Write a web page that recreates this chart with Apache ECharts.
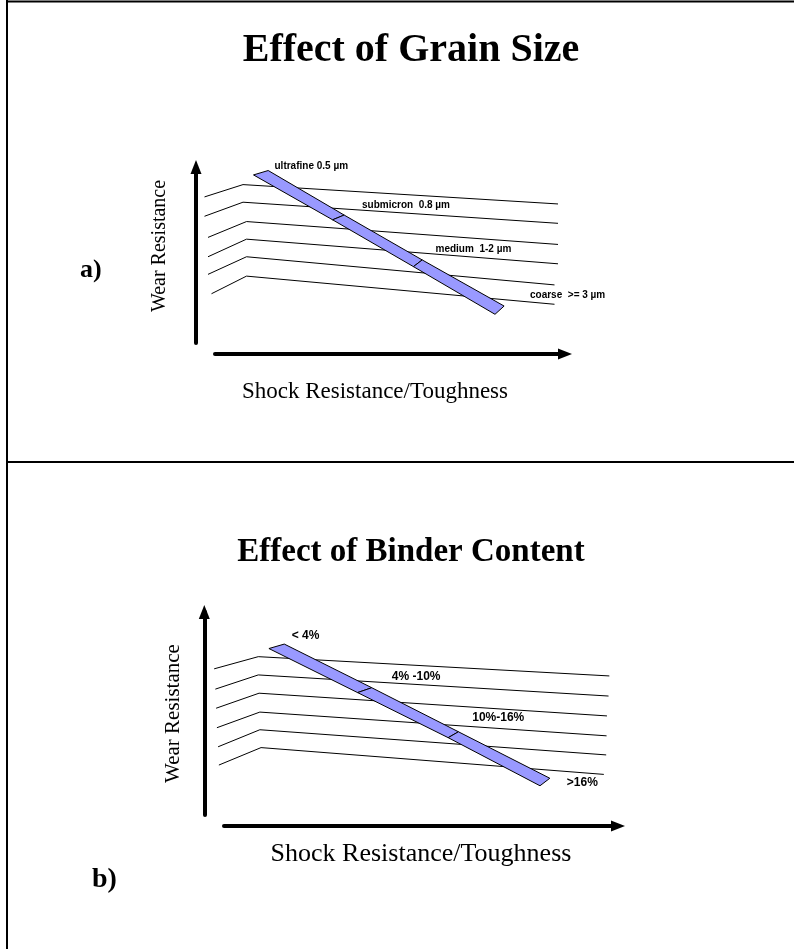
<!DOCTYPE html>
<html>
<head>
<meta charset="utf-8">
<title>Effect of Grain Size / Binder Content</title>
<script src="https://cdn.jsdelivr.net/npm/echarts@6/dist/echarts.min.js"></script>
<style>
html, body { margin: 0; padding: 0; background: #fff; }
#chart { width: 794px; height: 949px; }
</style>
</head>
<body>
<div id="chart"></div>
<script>
// a) grain size -- curves in arbitrary units (0..100 on both axes)
const gradeLinesA = [
    [[-3, 83], [8, 90], [98, 79]],
    [[-3, 72], [8, 80], [98, 68]],
    [[-2, 60], [9, 69], [98, 56]],
    [[-2, 49], [9, 59], [98, 45]],
    [[-2, 39], [9, 49], [97, 33]],
    [[-1, 28], [9, 38], [97, 22]]
]
// band cuts: [x lower, y lower, x upper, y upper]
const bandCutsA = [
    [11, 95.5, 15.2, 98],
    [33.6, 70, 36.9, 72.7],
    [56.7, 43.4, 59.2, 47.2],
    [80, 16.3, 82.6, 21]
]
const bandNamesA = ['ultrafine 0.5 µm', 'submicron  0.8 µm', 'medium  1-2 µm', 'coarse  >= 3 µm']
const bandNamePosA = [[17, 100.5], [42, 78], [63, 53.5], [90, 27]]

// b) binder content
const gradeLinesB = [
    [[-2.5, 72], [8.7, 78], [97.8, 68.5]],
    [[-2.2, 62], [8.7, 69], [97.6, 58.6]],
    [[-2, 52.6], [8.9, 60], [97.2, 48.8]],
    [[-1.8, 43], [9.1, 50.7], [97.1, 39]],
    [[-1.5, 33.6], [9.1, 42], [97, 29.6]],
    [[-1.3, 24.6], [9.4, 33.2], [96.4, 20]]
]
const bandCutsB = [
    [11.4, 82, 15.3, 84.2],
    [33.9, 60.3, 37.5, 62.7],
    [56.9, 38.1, 59.5, 41],
    [80.2, 14.4, 82.7, 18.1]
]
const bandNamesB = ['< 4%', '4% -10%', '10%-16%', '>16%']
const bandNamePosB = [[17.2, 88.2], [42.6, 68], [63, 48], [87, 16]]

const xName = 'Shock Resistance/Toughness'
const yName = 'Wear Resistance'

const serif = '"Liberation Serif", "Times New Roman", serif'
const sans = '"Liberation Sans", Arial, sans-serif'

const chart = echarts.init(document.getElementById('chart'))

const arrowLine = {
    show: true,
    onZero: false,
    symbol: ['none', 'triangle'],
    symbolSize: [11, 14],
    lineStyle: { color: '#000', width: 4 }
}
const bare = { axisTick: { show: false }, axisLabel: { show: false }, splitLine: { show: false } }

// plot grid: data axes, the y axis carries the arrow
function plotX(grid) {
    return Object.assign({ type: 'value', gridIndex: grid, min: -5, max: 100, axisLine: { show: false } }, bare)
}
function plotY(grid, offset, gap, size, pad) {
    return Object.assign({
        type: 'value', gridIndex: grid, min: 0, max: 100, offset: offset, axisLine: arrowLine,
        name: yName, nameLocation: 'middle', nameGap: gap,
        nameTextStyle: { fontFamily: serif, fontSize: size, color: '#000', padding: pad }
    }, bare)
}
// frame grid: only the horizontal arrow, which starts right of the vertical one
function frameX(grid, offset, gap, size, pad) {
    return Object.assign({
        type: 'value', gridIndex: grid, min: 0, max: 100, offset: offset, axisLine: arrowLine,
        name: xName, nameLocation: 'middle', nameGap: gap,
        nameTextStyle: { fontFamily: serif, fontSize: size, color: '#000', padding: pad }
    }, bare)
}
function frameY(grid) {
    return { type: 'value', gridIndex: grid, min: 0, max: 100, show: false }
}

function lineSeries(lines, idx) {
    return lines.map(pts => ({
        type: 'line', xAxisIndex: idx, yAxisIndex: idx,
        data: pts, symbol: 'none', silent: true,
        lineStyle: { color: '#000', width: 1 }
    }))
}

function bandSeries(cuts, idx) {
    const segs = cuts.slice(0, -1).map((c, i) => c.concat(cuts[i + 1]))
    return {
        type: 'custom', xAxisIndex: idx, yAxisIndex: idx, silent: true, z: 5,
        data: segs,
        renderItem(params, api) {
            const p = (a, b) => api.coord([api.value(a), api.value(b)])
            return {
                type: 'polygon',
                shape: { points: [p(0, 1), p(2, 3), p(6, 7), p(4, 5)] },
                style: { fill: '#9999ff', stroke: '#000', lineWidth: 1 }
            }
        }
    }
}

function nameSeries(names, pos, idx, size) {
    return {
        type: 'custom', xAxisIndex: idx, yAxisIndex: idx, silent: true, z: 6,
        data: pos,
        renderItem(params, api) {
            const pt = api.coord([api.value(0), api.value(1)])
            return {
                type: 'text', x: pt[0], y: pt[1],
                style: {
                    text: names[params.dataIndex], fill: '#000',
                    font: 'bold ' + size + 'px ' + sans,
                    align: 'left', verticalAlign: 'middle'
                }
            }
        }
    }
}

const titleStyle = { fontFamily: serif, fontWeight: 'bold', fontSize: 40, color: '#000' }

chart.setOption({
    backgroundColor: '#fff',
    animation: false,
    title: [
        { text: 'Effect of Grain Size', left: 406, top: 26, textAlign: 'center', textStyle: titleStyle },
        {
            text: 'Effect of Binder Content', left: 406, top: 531, textAlign: 'center',
            textStyle: Object.assign({}, titleStyle, { fontSize: 33 })
        }
    ],
    grid: [
        { left: 197.5, top: 167, width: 367.5, height: 176 },
        { left: 215, top: 167, width: 350, height: 176 },
        { left: 204.3, top: 612, width: 413.7, height: 203 },
        { left: 224, top: 612, width: 394, height: 203 }
    ],
    xAxis: [
        plotX(0),
        frameX(1, 11, 26, 23, [0, 30, 0, 0]),
        plotX(2),
        frameX(3, 11, 15, 26, [0, 0, 0, 0])
    ],
    yAxis: [
        plotY(0, 1.5, 26, 20, [0, 0, 0, 18]),
        frameY(1),
        plotY(2, 0, 20, 21, [0, 0, 0, 0]),
        frameY(3)
    ],
    graphic: [
        { type: 'line', shape: { x1: 7, y1: 0, x2: 7, y2: 949 }, style: { stroke: '#000', lineWidth: 2 } },
        { type: 'line', shape: { x1: 6, y1: 1.5, x2: 794, y2: 1.5 }, style: { stroke: '#000', lineWidth: 2 } },
        { type: 'line', shape: { x1: 6, y1: 462, x2: 794, y2: 462 }, style: { stroke: '#000', lineWidth: 2 } },
        { type: 'text', left: 80, top: 257, style: { text: 'a)', font: 'bold 26px ' + serif, fill: '#000' } },
        { type: 'text', left: 92, top: 866, style: { text: 'b)', font: 'bold 28px ' + serif, fill: '#000' } }
    ],
    series: [].concat(
        lineSeries(gradeLinesA, 0),
        [bandSeries(bandCutsA, 0), nameSeries(bandNamesA, bandNamePosA, 0, 10)],
        lineSeries(gradeLinesB, 2),
        [bandSeries(bandCutsB, 2), nameSeries(bandNamesB, bandNamePosB, 2, 12)]
    )
})
</script>
</body>
</html>
